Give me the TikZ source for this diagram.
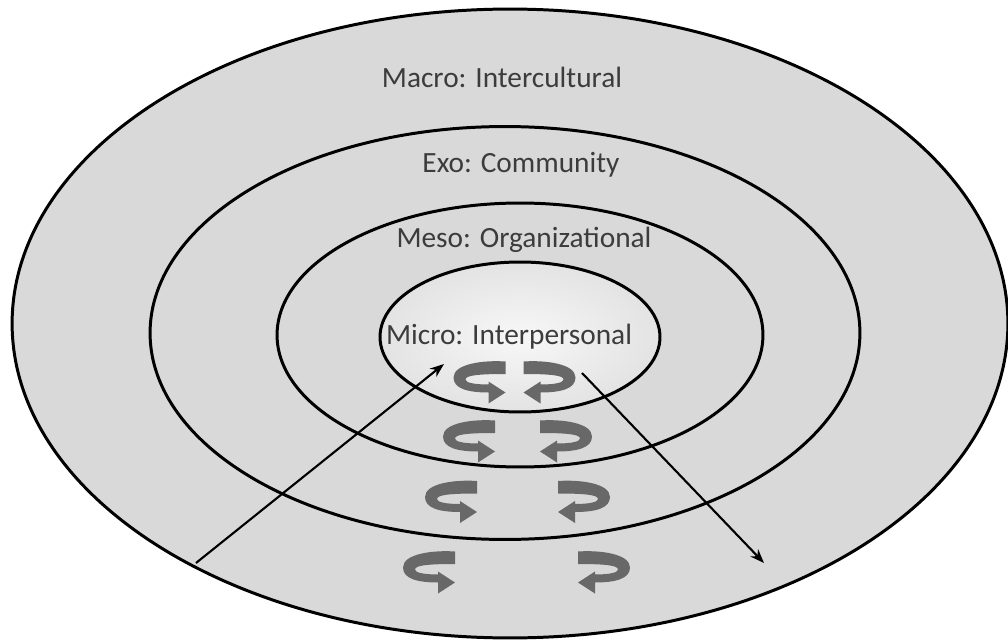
\documentclass[tikz,border=0pt]{standalone}
\usepackage{fontspec}
\setmainfont{Carlito}
\usetikzlibrary{shapes.geometric,arrows.meta}
\definecolor{ringfill}{HTML}{D9D9D9}
\definecolor{txt}{HTML}{3C3C3C}
\definecolor{rotc}{HTML}{686868}
\tikzset{
  ring/.style={ellipse, draw=black, line width=1.7pt, inner sep=0pt},
  lbl/.style={text=txt, font=\fontsize{16.7pt}{18pt}\selectfont, inner sep=0pt},
  flow/.style={draw=black, line width=1.2pt, -{Stealth[length=8pt,width=6pt]}},
  rot/.pic={
    \fill[rotc] (26,-21) .. controls (5,-22.5) and (-26,-19) .. (-26,-5)
      .. controls (-26,6) and (-12,10) .. (9,10)
      -- (9,21) -- (26,10) -- (9,-1) -- (9,2)
      .. controls (-6,2) and (-14,0) .. (-14,-3)
      .. controls (-14,-7) and (-2,-8.5) .. (26,-8.5) -- cycle;
  }
}
\begin{document}
\begin{tikzpicture}[x=0.02cm, y=-0.02cm]
\useasboundingbox (0,0) rectangle (1008,642);
\node[ring, fill=ringfill, minimum width=19.92cm, minimum height=12.58cm] (macro) at (510,323.5) {};
\node[ring, minimum width=14.2cm, minimum height=8.26cm] (exo) at (505,333) {};
\node[ring, minimum width=9.72cm, minimum height=5.28cm] (meso) at (520,335) {};
\node[ring, inner color=gray!6, outer color=gray!22, minimum width=5.6cm, minimum height=3.0cm] (micro) at (520,337) {};

\pic at (479.5,382.5) {rot};
\pic[xscale=-1] at (549.5,382.5) {rot};
\pic at (469,441.5) {rot};
\pic[xscale=-1] at (566,441.5) {rot};
\pic at (451,502) {rot};
\pic[xscale=-1] at (584,502) {rot};
\pic at (429,572.5) {rot};
\pic[xscale=-1] at (604,572.5) {rot};

\node[lbl] (tmacro) at (502,77) {Macro: Intercultural};
\node[lbl] (texo) at (521,165) {Exo: Community};
\node[lbl] (tmeso) at (524,240) {Meso: Organizational};
\node[lbl] (tmicro) at (509,337) {Micro: Interpersonal};

\coordinate (inS) at (196,563);
\coordinate (inE) at (444,364);
\coordinate (outS) at (582,373);
\coordinate (outE) at (764,563);
\draw[flow] (inS) -- (inE);
\draw[flow] (outS) -- (outE);
\end{tikzpicture}
\end{document}
